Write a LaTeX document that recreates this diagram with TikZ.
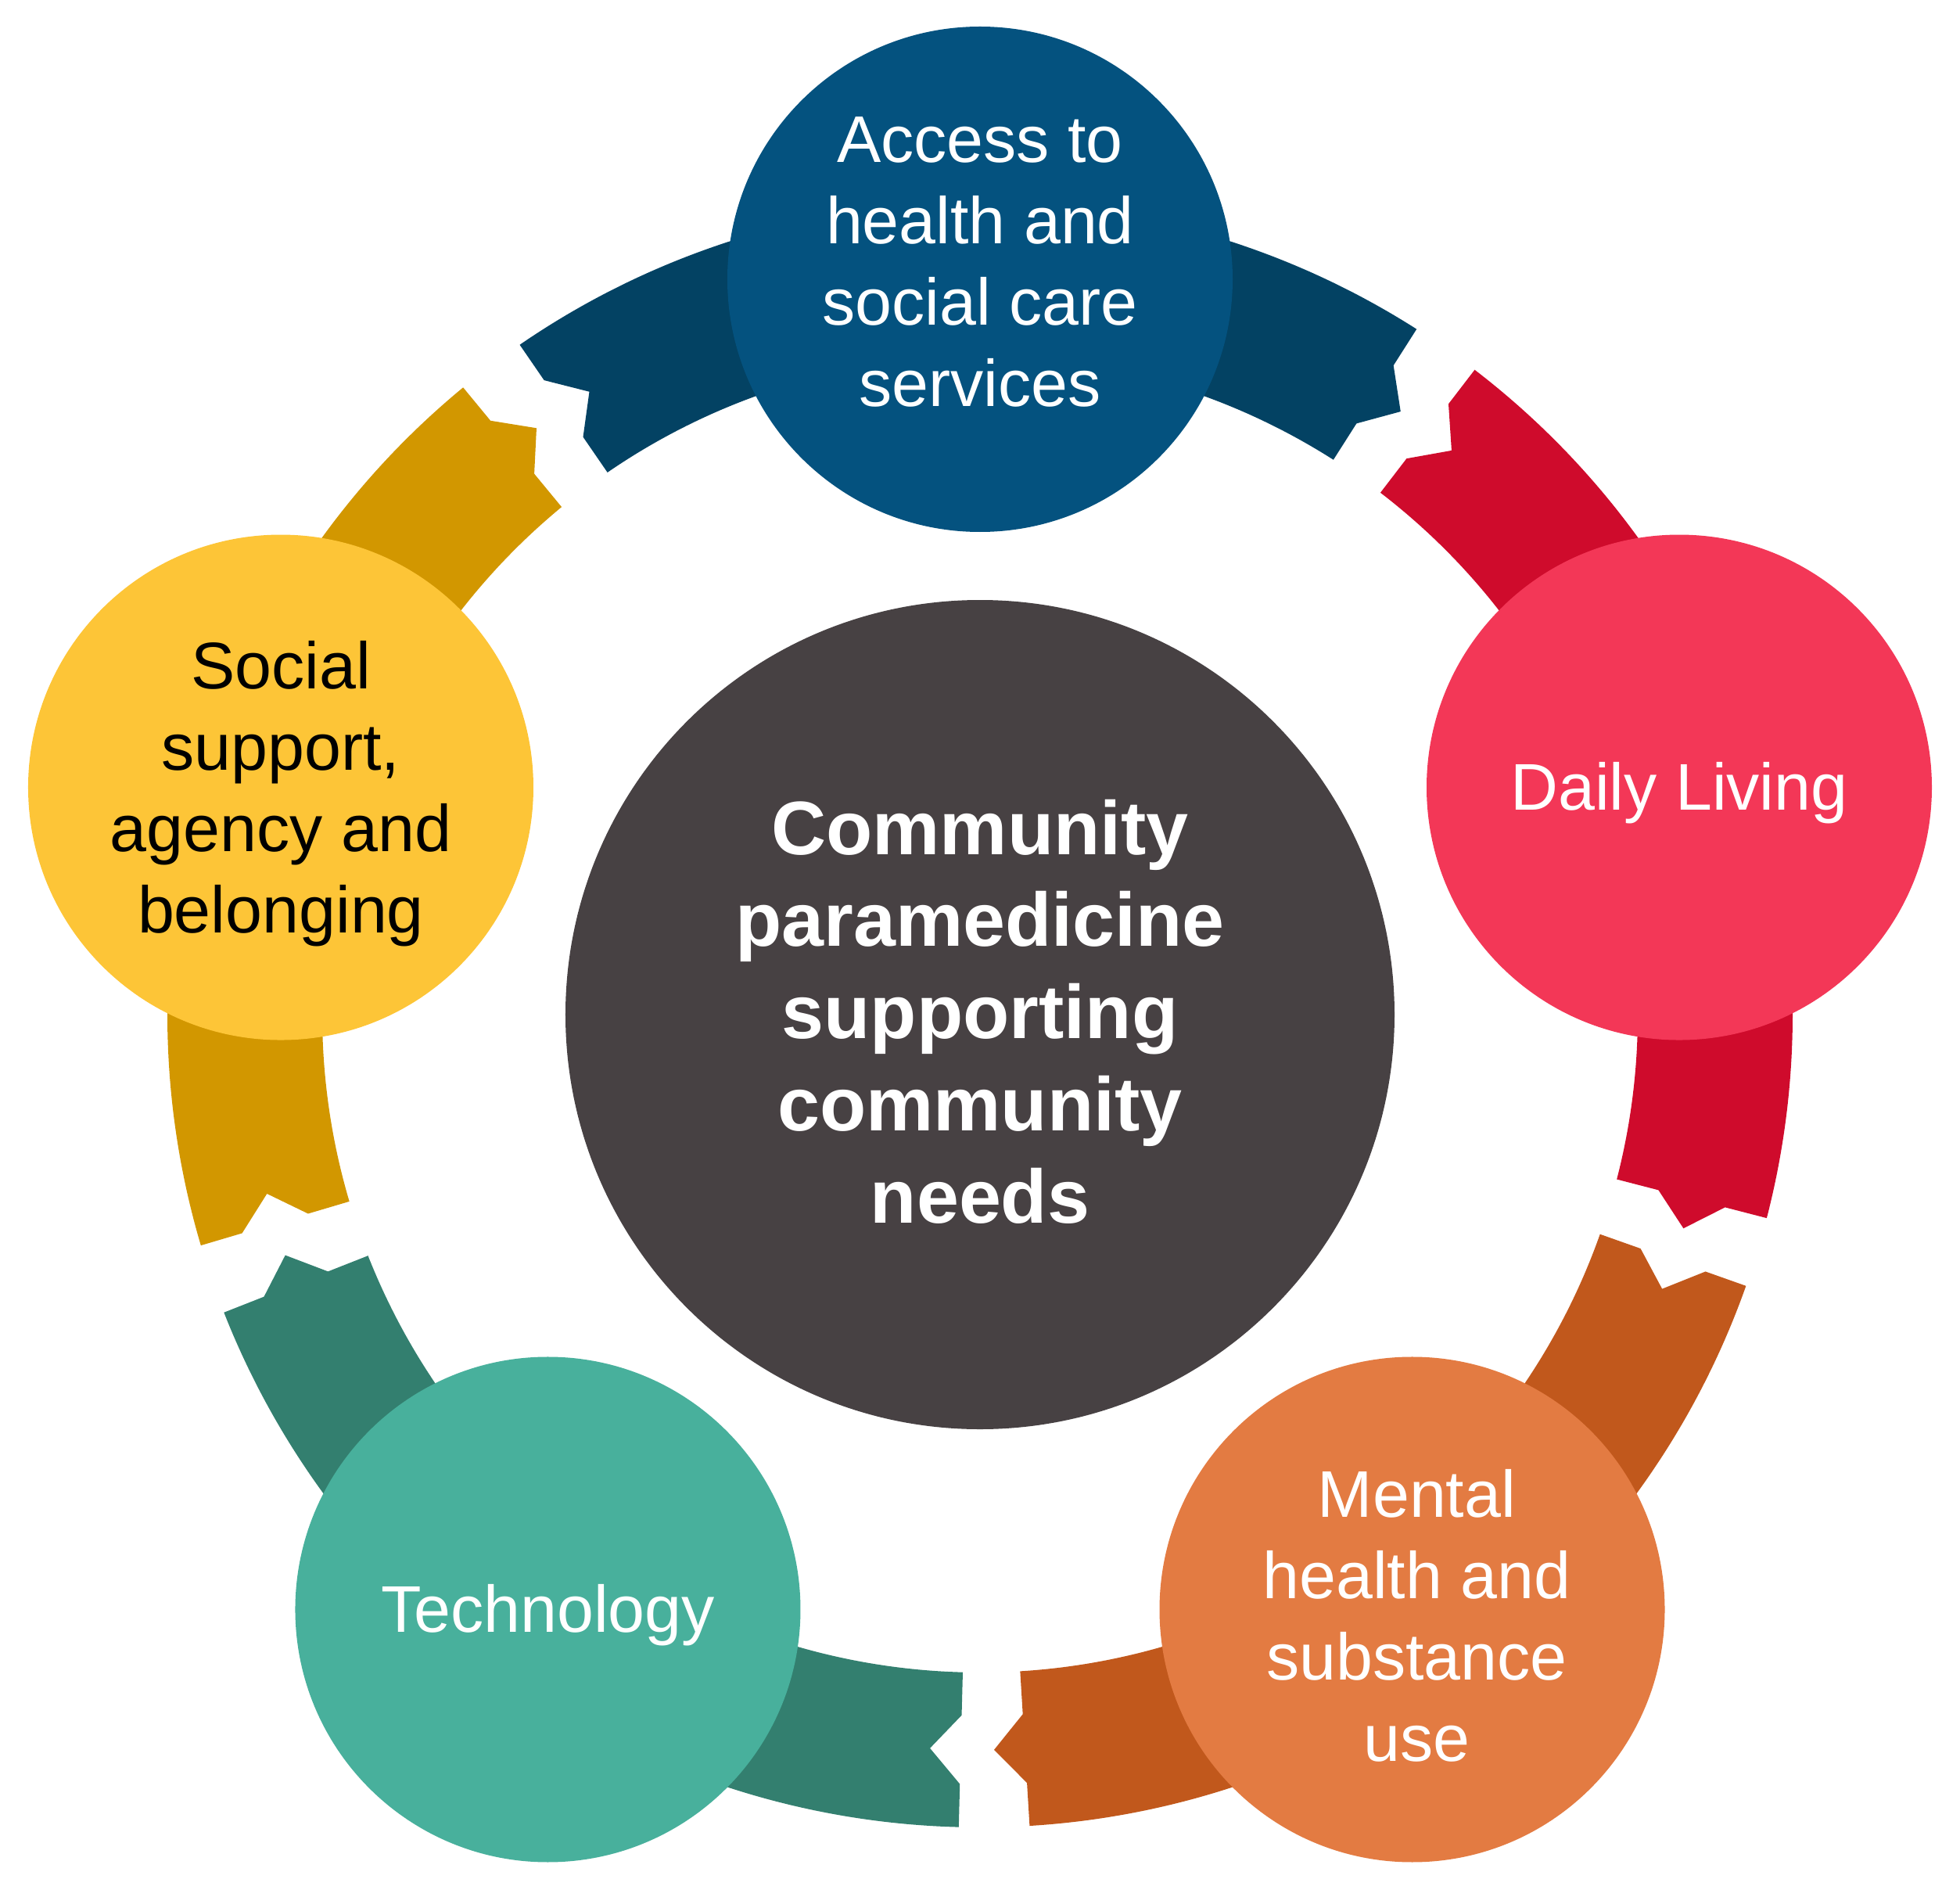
\documentclass[tikz,border=0pt]{standalone}
\usepackage{fontspec}
\setmainfont{Liberation Sans}
\usepackage{tikz}

\definecolor{hubgrey}{HTML}{474143}
\definecolor{accessfill}{HTML}{04527F}
\definecolor{accessband}{HTML}{034263}
\definecolor{dailyfill}{HTML}{F33757}
\definecolor{dailyband}{HTML}{CF0B2C}
\definecolor{mentalfill}{HTML}{E37B42}
\definecolor{mentalband}{HTML}{C1581C}
\definecolor{techfill}{HTML}{48B09C}
\definecolor{techband}{HTML}{337F6F}
\definecolor{socialfill}{HTML}{FDC537}
\definecolor{socialband}{HTML}{D29700}

\begin{document}
\begin{tikzpicture}[
		hubdisc/.style={circle, inner sep=0pt, minimum size=10.6cm, fill=hubgrey, text=white, align=center,
			font=\bfseries\fontsize{27.6}{33.5}\selectfont},
		topicdisc/.style={circle, inner sep=0pt, minimum size=6.46cm, align=center, text=white,
			font=\fontsize{24}{29.6}\selectfont},
		topictext/.style={align=center, inner sep=0pt, font=\fontsize{24}{29.6}\selectfont}]
		\useasboundingbox (-12.53, -11.27) rectangle (12.53, 12.97);
		
		% ring of arrow bands, tail notch at the start, point at the head
		\foreach \a/\c in {91/accessband, 19/dailyband, -53/mentalband, -125/techband, -197/socialband}
			\fill[\c] (\a+33.5:10.39) arc[start angle=\a+33.5, end angle=\a-33.5, radius=10.39]
				-- (\a-33.5:9.84) -- (\a-35.9:9.40) -- (\a-33.5:8.96) -- (\a-33.5:8.41)
				arc[start angle=\a-33.5, end angle=\a+33.5, radius=8.41]
				-- (\a+33.5:8.96) -- (\a+31.1:9.40) -- (\a+33.5:9.84) -- cycle;
		
		\node[hubdisc] (hub) at (0, 0) {};
		\node[topictext, text=white, yshift=0.04cm, font=\bfseries\fontsize{27.6}{33.5}\selectfont] (hublabel) at (hub)
			{Community\\paramedicine\\supporting\\community\\needs};
		
		\node[topicdisc, fill=accessfill] (access) at (90:9.40) {};
		\node[topicdisc, fill=dailyfill] (daily) at (18:9.40) {};
		\node[topicdisc, fill=mentalfill] (mental) at (-54:9.40) {};
		\node[topicdisc, fill=techfill] (tech) at (-126:9.40) {};
		\node[topicdisc, fill=socialfill] (social) at (162:9.40) {};
		
		\node[topictext, text=white, yshift=0.22cm] (accesslabel) at (access) {Access to\\health and\\social care\\services};
		\node[topictext, text=white, yshift=-0.07cm] (dailylabel) at (daily) {Daily Living};
		\node[topictext, text=white, xshift=0.06cm, yshift=-0.08cm] (mentallabel) at (mental) {Mental\\health and\\substance\\use};
		\node[topictext, text=white, yshift=-0.07cm] (techlabel) at (tech) {Technology};
		\node[topictext, text=black, yshift=-0.08cm] (sociallabel) at (social) {Social\\support,\\agency and\\belonging};
	\end{tikzpicture}
\end{document}
